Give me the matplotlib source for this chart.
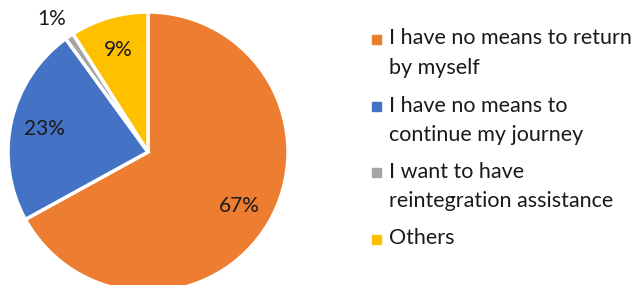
import numpy as np
import matplotlib
matplotlib.use("Agg")
import matplotlib.pyplot as plt
from matplotlib.patches import Rectangle

plt.rcParams['font.family'] = ['Lato', 'DejaVu Sans']

# data
labels = ["I have no means to return\nby myself",
          "I have no means to\ncontinue my journey",
          "I want to have\nreintegration assistance",
          "Others"]
shares = [67, 23, 1, 9]
colors = ["#ED7D31", "#4472C4", "#A5A5A5", "#FFC000"]

fig = plt.figure(figsize=(6.42, 2.85), dpi=100)
ax = fig.add_axes([8 / 642, -7 / 285, 280 / 642, 280 / 285])

wedges, texts, autotexts = ax.pie(
    shares, colors=colors, startangle=90, counterclock=False,
    autopct='%d%%', pctdistance=0.76, radius=1,
    wedgeprops=dict(edgecolor='white', linewidth=2.5),
    textprops=dict(fontsize=15, color='#1a1a1a'))

# the 1% label sits outside the pie
ang = np.deg2rad(126)
autotexts[2].set_position((1.17 * np.cos(ang), 1.17 * np.sin(ang)))

ax.set_xlim(-1, 1)
ax.set_ylim(-1, 1)
ax.set_aspect('equal')
ax.axis('off')

# legend drawn by hand so the swatch lines up with the first text line
y_rows = [39, 106, 172, 239]
for lab, col, yy in zip(labels, colors, y_rows):
    fy = 1 - yy / 285
    fig.patches.append(Rectangle((372 / 642, fy - 4.5 / 285), 9 / 642, 9 / 285,
                                 transform=fig.transFigure, color=col))
    fig.text(389 / 642, fy + 10.5 / 285, lab, fontsize=15.5, color='#1a1a1a',
             va='top', ha='left', linespacing=1.62)

fig.savefig("out.png", dpi=100)
